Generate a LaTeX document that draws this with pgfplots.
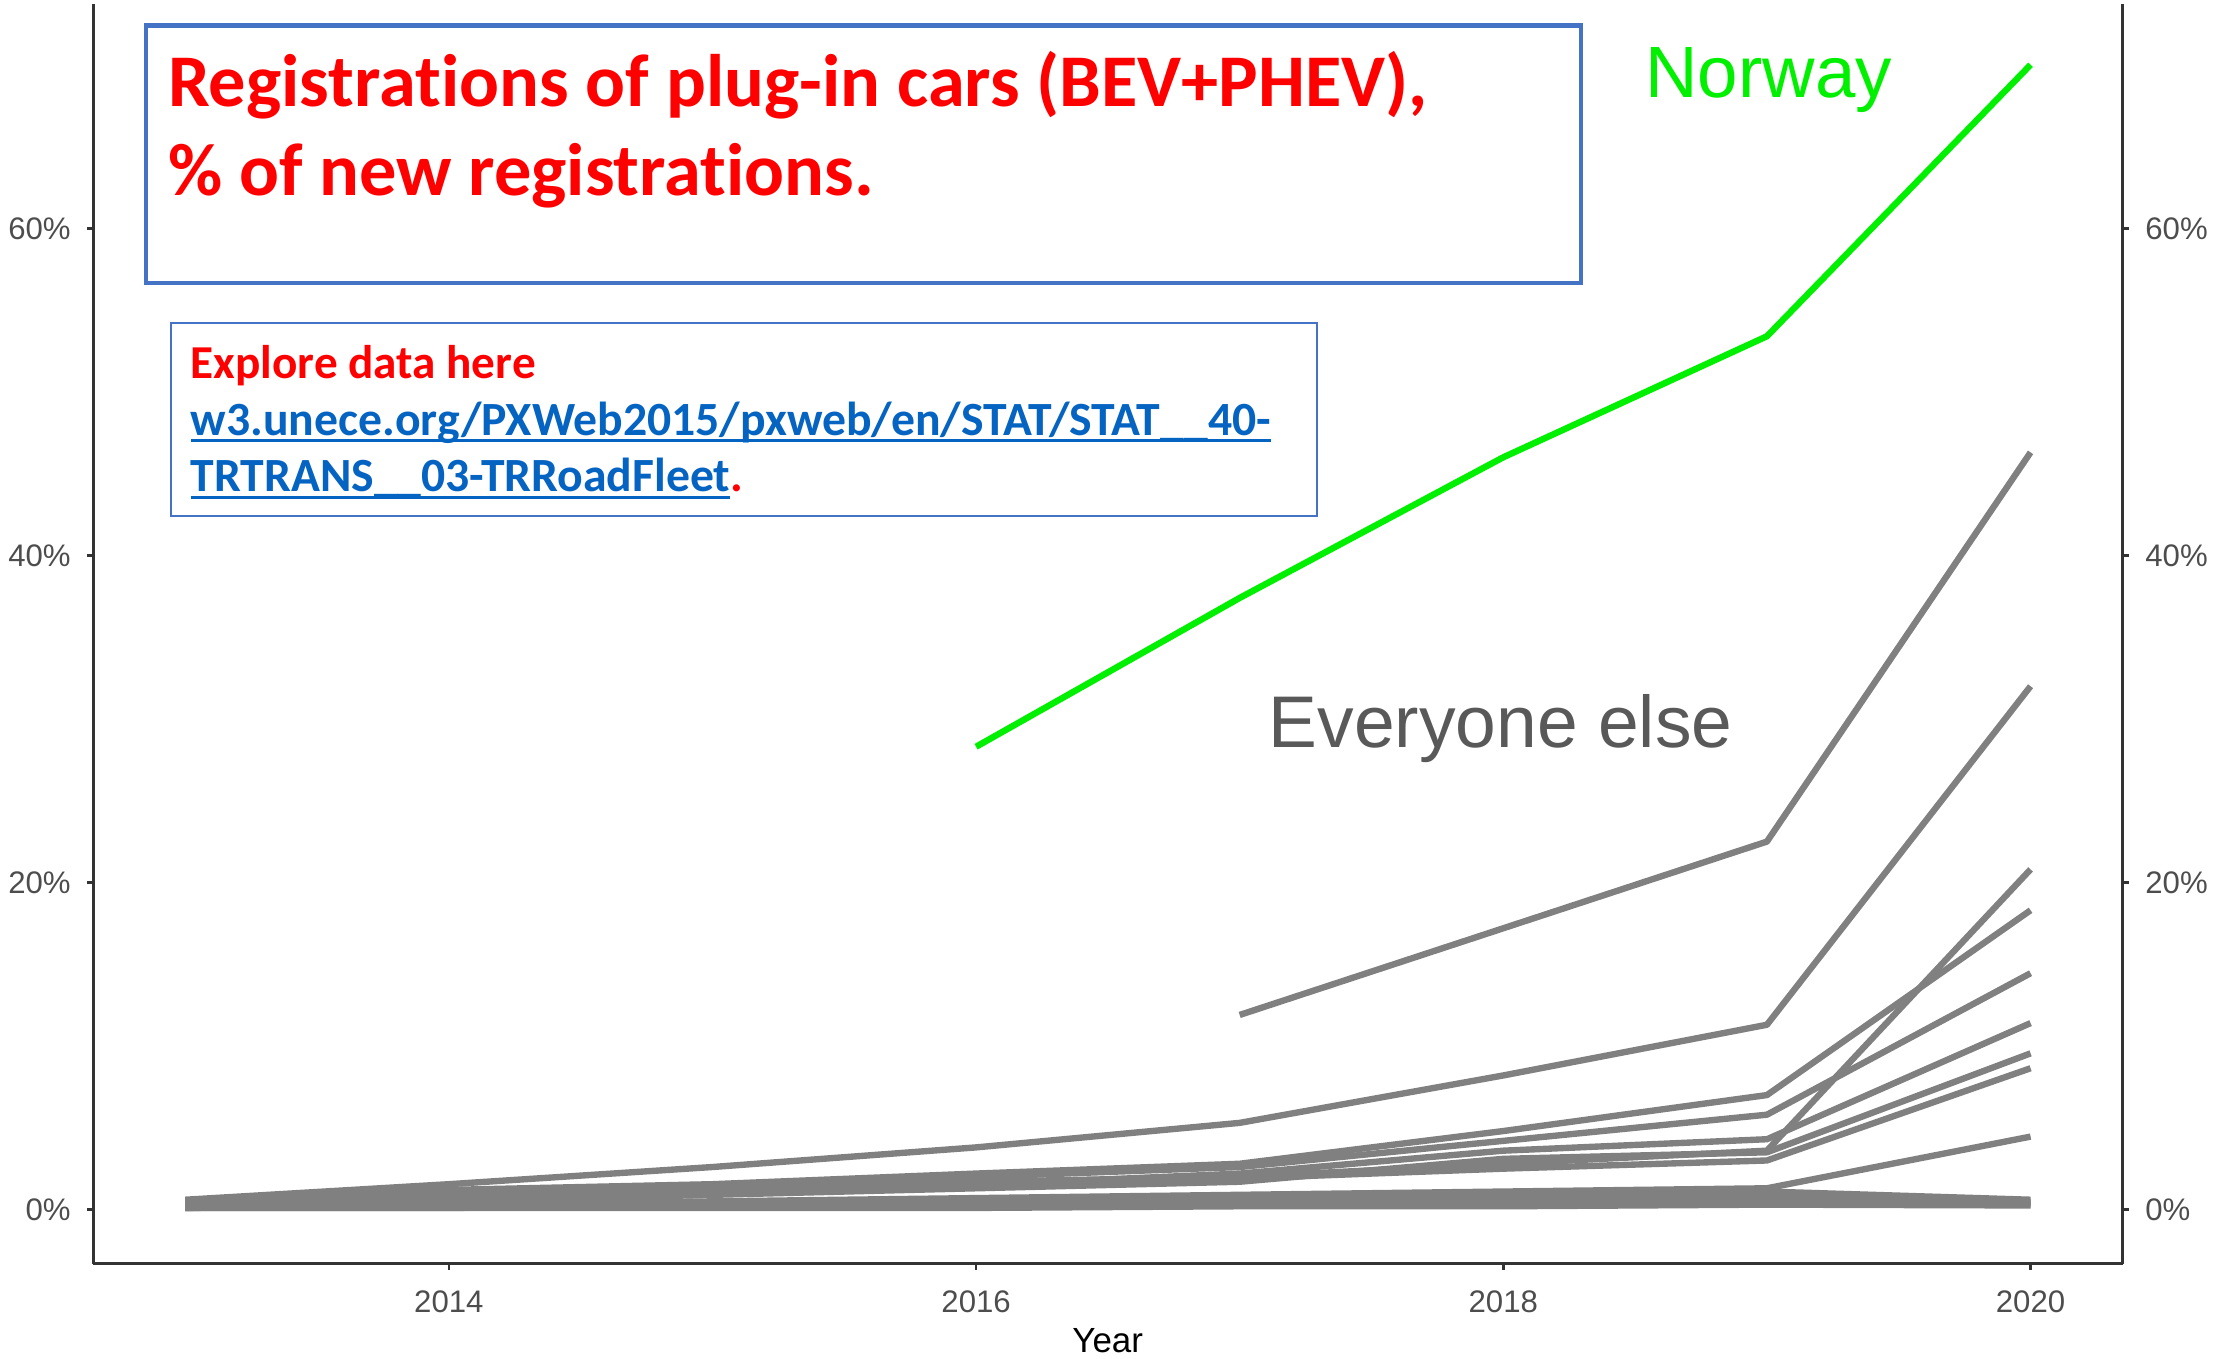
\documentclass[border=0pt]{standalone}
\usepackage{pgfplots}
\pgfplotsset{compat=1.18}
\usepackage{fontspec}
\setmainfont{Liberation Sans}
\newfontfamily\calibri[Ligatures=NoCommon]{Carlito}
\definecolor{boxblue}{RGB}{68,114,196}
\definecolor{linkblue}{RGB}{5,99,193}
\definecolor{ticktext}{RGB}{77,77,77}
\definecolor{linegray}{RGB}{128,128,128}
\definecolor{norway}{RGB}{0,240,0}
\definecolor{elsegray}{RGB}{89,89,89}
\newcommand\ul[1]{\setbox0\hbox{#1}\rlap{\rule[-0.15em]{\wd0}{0.06em}}\box0}
\pgfplotsset{
  common/.style={
    at={(0,0)}, anchor=south west, scale only axis,
    width=429.75pt, height=266.7pt,
    xmin=2012.652, xmax=2020.349, ymin=-3.3, ymax=73.7,
    axis line style={color=black!80, line width=0.7pt},
    tick align=outside, major tick length=1.3pt,
    tick style={black!80, line width=0.5pt},
    ytick={0,20,40,60}, yticklabels={0\%,20\%,40\%,60\%},
    ticklabel style={font=\fontsize{6.6}{7}\selectfont, text=ticktext},
  },
  gl/.style={linegray, line width=1.35pt, line join=round},
}
\begin{document}
\begin{tikzpicture}
\begin{axis}[common,
  axis x line*=bottom, axis y line*=left,
  xtick={2014,2016,2018,2020}, xticklabels={2014,2016,2018,2020},
  xticklabel style={yshift=-0.9pt},
]
% Everyone else
\addplot[gl] coordinates {(2013,0.1)(2014,0.1)(2015,0.1)(2016,0.1)(2017,0.2)(2018,0.2)(2019,0.3)(2020,0.25)};
\addplot[gl] coordinates {(2013,0.1)(2014,0.1)(2015,0.2)(2016,0.2)(2017,0.3)(2018,0.4)(2019,0.5)(2020,0.35)};
\addplot[gl] coordinates {(2013,0.1)(2014,0.2)(2015,0.3)(2016,0.4)(2017,0.5)(2018,0.7)(2019,0.8)(2020,0.45)};
\addplot[gl] coordinates {(2013,0.2)(2014,0.3)(2015,0.4)(2016,0.6)(2017,0.8)(2018,1.0)(2019,1.1)(2020,0.6)};
\addplot[gl] coordinates {(2013,0.1)(2014,0.3)(2015,0.5)(2016,0.7)(2017,0.9)(2018,1.1)(2019,1.3)(2020,4.46)};
\addplot[gl] coordinates {(2013,0.3)(2014,0.6)(2015,1.0)(2016,1.4)(2017,1.9)(2018,2.5)(2019,3.0)(2020,8.64)};
\addplot[gl] coordinates {(2013,0.2)(2014,0.5)(2015,0.9)(2016,1.3)(2017,1.7)(2018,3.1)(2019,3.5)(2020,9.55)};
\addplot[gl] coordinates {(2013,0.3)(2014,0.7)(2015,1.1)(2016,1.5)(2017,2.2)(2018,3.6)(2019,4.3)(2020,11.4)};
\addplot[gl] coordinates {(2013,0.5)(2014,1.0)(2015,1.4)(2016,2.0)(2017,2.6)(2018,4.2)(2019,5.8)(2020,14.45)};
\addplot[gl] coordinates {(2013,0.35)(2014,0.8)(2015,1.3)(2016,1.7)(2017,2.0)(2018,2.8)(2019,3.6)(2020,20.8)};
\addplot[gl] coordinates {(2013,0.45)(2014,1.2)(2015,1.55)(2016,2.2)(2017,2.8)(2018,4.8)(2019,7.0)(2020,18.3)};
\addplot[gl] coordinates {(2013,0.6)(2014,1.55)(2015,2.6)(2016,3.8)(2017,5.3)(2018,8.2)(2019,11.3)(2020,32.0)};
\addplot[gl] coordinates {(2017,11.9)(2018,17.2)(2019,22.5)(2020,46.3)};
% Norway
\addplot[norway, line width=1.35pt, line join=round] coordinates {(2016,28.3)(2017,37.4)(2018,46.0)(2019,53.4)(2020,70.0)};
\end{axis}
\begin{axis}[common,
  axis y line*=right, axis x line=none,
]
\end{axis}
\begin{scope}[shift={(-19.8pt,267.6pt)}, x=0.3pt, y=-0.3pt]
\draw[boxblue, line width=0.9pt] (103,18) rectangle (1116,200);
\node[anchor=base west, inner sep=0, text=red, font=\calibri\bfseries\fontsize{15.75}{18}\selectfont] at (118,75.3) {Registrations of plug-in cars (BEV+PHEV),};
\node[anchor=base west, inner sep=0, text=red, font=\calibri\bfseries\fontsize{15.75}{18}\selectfont] at (118,137.7) {\% of new registrations.};
\draw[boxblue, line width=0.45pt] (120.5,228) rectangle (929.6,364.5);
\node[anchor=base west, inner sep=0, text=red, font=\calibri\bfseries\fontsize{10}{12}\selectfont] at (134,267.1) {Explore data here};
\node[anchor=base west, inner sep=0, text=linkblue, font=\calibri\bfseries\fontsize{10.1}{12}\selectfont] at (134,307.1) {\ul{w3.unece.org/PXWeb2015/pxweb/en/STAT/STAT\_\_40-}};
\node[anchor=base west, inner sep=0, text=linkblue, font=\calibri\bfseries\fontsize{10.1}{12}\selectfont] at (134,347.1) {\ul{TRTRANS\_\_03-TRRoadFleet}\textcolor{red}{.}};
\node[anchor=base west, inner sep=0, text=norway, font=\fontsize{15.4}{18}\selectfont] at (1161,68.5) {Norway};
\node[anchor=base west, inner sep=0, text=elsegray, font=\fontsize{15.5}{18}\selectfont] at (895,528) {Everyone else};
\node[anchor=base, inner sep=0, font=\fontsize{7.4}{8}\selectfont] at (782,955) {Year};
\end{scope}
\pgfresetboundingbox
\path[use as bounding box] (-19.8pt,-20.1pt) rectangle (450.6pt,267.6pt);
\end{tikzpicture}
\end{document}
